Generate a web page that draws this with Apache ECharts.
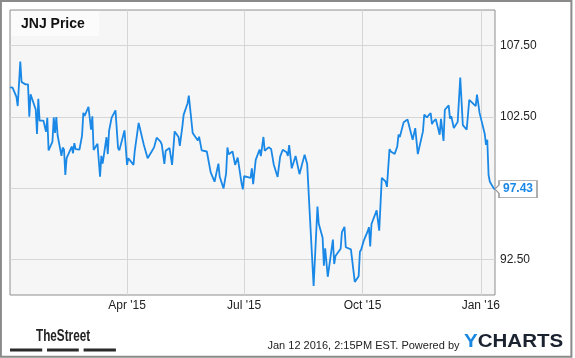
<!DOCTYPE html>
<html>
<head>
<meta charset="utf-8">
<script src="https://cdn.jsdelivr.net/npm/echarts@6/dist/echarts.min.js"></script>
<style>
html,body{margin:0;padding:0;background:#fff;}
#chart{width:575px;height:358px;}
</style>
</head>
<body>
<div id="chart"></div>
<script>
var seriesName = 'JNJ Price';
var dates = [
'2014-12-31','2015-01-02','2015-01-05','2015-01-06','2015-01-08','2015-01-09','2015-01-12','2015-01-13','2015-01-14','2015-01-15',
'2015-01-16','2015-01-20','2015-01-21','2015-01-22','2015-01-23','2015-01-26','2015-01-28','2015-01-29','2015-01-30','2015-02-02',
'2015-02-03','2015-02-04','2015-02-05','2015-02-06','2015-02-09','2015-02-10','2015-02-11','2015-02-12','2015-02-13','2015-02-17',
'2015-02-18','2015-02-19','2015-02-20','2015-02-23','2015-02-25','2015-02-26','2015-02-27','2015-03-02','2015-03-04','2015-03-05',
'2015-03-06','2015-03-09','2015-03-11','2015-03-12','2015-03-13','2015-03-16','2015-03-17','2015-03-18','2015-03-20','2015-03-23',
'2015-03-25','2015-03-26','2015-03-30','2015-04-01','2015-04-02','2015-04-06','2015-04-07','2015-04-10','2015-04-14','2015-04-15',
'2015-04-17','2015-04-20','2015-04-22','2015-04-24','2015-04-27','2015-04-28','2015-04-29','2015-04-30','2015-05-01','2015-05-04',
'2015-05-06','2015-05-08','2015-05-11','2015-05-12','2015-05-13','2015-05-14','2015-05-15','2015-05-18','2015-05-19','2015-05-22',
'2015-05-26','2015-05-27','2015-05-28','2015-05-29','2015-06-02','2015-06-05','2015-06-08','2015-06-11','2015-06-12','2015-06-15',
'2015-06-17','2015-06-18','2015-06-19','2015-06-22','2015-06-24','2015-06-26','2015-06-29','2015-06-30','2015-07-01','2015-07-06',
'2015-07-07','2015-07-08','2015-07-10','2015-07-13','2015-07-14','2015-07-16','2015-07-17','2015-07-20','2015-07-22','2015-07-24',
'2015-07-27','2015-07-29','2015-07-31','2015-08-03','2015-08-04','2015-08-05','2015-08-07','2015-08-10','2015-08-13','2015-08-17',
'2015-08-19','2015-08-21','2015-08-24','2015-08-27','2015-08-28','2015-08-31','2015-09-01','2015-09-02','2015-09-04','2015-09-08',
'2015-09-09','2015-09-10','2015-09-14','2015-09-15','2015-09-17','2015-09-18','2015-09-22','2015-09-23','2015-09-25','2015-09-28',
'2015-09-29','2015-09-30','2015-10-02','2015-10-05','2015-10-06','2015-10-07','2015-10-08','2015-10-12','2015-10-14','2015-10-16',
'2015-10-19','2015-10-20','2015-10-22','2015-10-23','2015-10-26','2015-10-28','2015-10-29','2015-10-30','2015-11-02','2015-11-03',
'2015-11-05','2015-11-09','2015-11-11','2015-11-13','2015-11-17','2015-11-18','2015-11-20','2015-11-23','2015-11-24','2015-11-25',
'2015-11-27','2015-11-30','2015-12-01','2015-12-03','2015-12-04','2015-12-07','2015-12-08','2015-12-09','2015-12-11','2015-12-14',
'2015-12-16','2015-12-18','2015-12-21','2015-12-23','2015-12-28','2015-12-29','2015-12-31','2016-01-04','2016-01-05','2016-01-06',
'2016-01-07','2016-01-08','2016-01-11','2016-01-12'
];
var prices = [
104.57,104.55,103.90,103.26,106.39,104.95,104.78,104.68,104.78,102.52,
104.08,103.02,101.30,103.77,102.24,102.24,101.46,102.43,100.14,100.77,
102.46,101.37,102.49,101.21,99.76,100.35,100.19,98.42,99.60,100.42,
99.95,100.66,100.24,100.21,101.18,102.78,102.57,103.21,101.60,102.54,
100.17,100.61,98.30,99.76,99.22,101.07,99.89,101.51,102.45,102.96,
100.31,100.15,101.55,99.13,99.60,99.13,100.14,102.08,100.54,100.54,
99.60,100.05,100.36,101.04,100.77,100.56,100.70,99.20,100.12,100.31,
99.13,101.48,101.09,100.47,100.54,101.84,102.66,103.44,103.99,101.37,
100.84,101.11,101.13,100.15,100.07,98.60,97.95,99.22,98.30,97.48,
98.54,100.35,99.88,100.07,99.13,99.64,97.83,97.41,98.35,98.22,
98.89,97.77,99.48,100.21,99.74,101.09,100.12,100.36,100.24,99.16,
98.28,99.71,100.19,100.02,99.76,100.52,98.89,99.76,98.48,99.85,
99.20,95.71,90.64,96.21,95.00,94.01,92.05,93.28,91.28,93.89,
92.17,92.73,93.24,94.41,94.78,93.35,93.20,93.08,90.92,91.31,
93.04,93.19,93.82,94.46,94.76,93.40,94.98,95.94,94.51,98.22,
97.95,97.59,100.24,100.07,99.90,100.40,101.25,101.09,102.13,101.99,
102.31,100.89,101.71,99.89,101.48,102.66,102.46,102.77,101.99,102.17,
102.33,101.25,102.36,100.81,103.00,103.31,102.38,102.54,101.72,102.15,
105.26,101.92,101.60,103.70,103.25,104.06,102.78,101.32,100.54,100.89,
98.42,97.95,97.48,97.43
];
var xTickDates = ['2015-04-01','2015-07-01','2015-10-01','2016-01-01'];
var xTickLabels = ["Apr '15","Jul '15","Oct '15","Jan '16"];
var yTickValues = [92.5, 97.5, 102.5, 107.5];
var xRange = ['2014-12-31','2016-01-12'];
var yRange = [90, 110];
var footerStamp = 'Jan 12 2016, 2:15PM EST. Powered by';

function ts(s){ var p = s.split('-'); return Date.UTC(+p[0], +p[1]-1, +p[2]); }

var lineData = dates.map(function(d,i){ return [ts(d), prices[i]]; });
var xTicks = xTickDates.map(ts);
var lastPoint = lineData[lineData.length-1];

var FONT = '"Liberation Sans", Arial, Helvetica, sans-serif';
var BLUE = '#1a88e6';

var chart = echarts.init(document.getElementById('chart'), null, {renderer:'canvas'});
chart.setOption({
  animation: false,
  backgroundColor: '#ffffff',
  textStyle: {fontFamily: FONT},
  grid: {
    left: 10, top: 10, right: 80, bottom: 63,
    show: true, backgroundColor: '#f6f6f6', borderColor: '#8e8e8e', borderWidth: 1,
    containLabel: false
  },
  xAxis: {
    type: 'value',
    min: ts(xRange[0]), max: ts(xRange[1]),
    axisLine: {show: false},
    axisTick: {show: false, customValues: xTicks},
    splitLine: {show: true, lineStyle: {color: '#d6d6d6', width: 1}},
    axisLabel: {
      customValues: xTicks,
      color: '#222', fontSize: 12, fontFamily: FONT, margin: 5,
      formatter: function(v){ var i = xTicks.indexOf(v); return i >= 0 ? xTickLabels[i] : ''; }
    }
  },
  yAxis: {
    type: 'value', position: 'right',
    min: yRange[0], max: yRange[1],
    axisLine: {show: false},
    axisTick: {show: false, customValues: yTickValues},
    splitLine: {show: true, lineStyle: {color: '#d6d6d6', width: 1}},
    axisLabel: {
      customValues: yTickValues,
      color: '#222', fontSize: 12, fontFamily: FONT, margin: 5,
      formatter: function(v){ return v.toFixed(2); }
    }
  },
  series: [{
    name: seriesName,
    type: 'line',
    data: lineData,
    showSymbol: false,
    symbol: 'none',
    lineStyle: {color: BLUE, width: 1.8},
    itemStyle: {color: BLUE},
    markPoint: {
      silent: true,
      symbol: 'path://M0,8.5L4,4.3L4,0L42,0L42,17L4,17L4,12.7Z',
      symbolSize: [42, 17],
      symbolOffset: [21, 0],
      symbolKeepAspect: false,
      itemStyle: {color: '#ffffff', borderColor: '#9a9a9a', borderWidth: 1},
      label: {
        show: true, position: 'inside', offset: [2, 0],
        color: BLUE, fontWeight: 'bold', fontSize: 12, fontFamily: FONT,
        formatter: function(p){ return p.value.toFixed(2); }
      },
      data: [{coord: lastPoint, value: lastPoint[1]}]
    }
  }],
  graphic: [
    {type:'rect', z: 100, silent:true, shape:{x:0.9, y:0.9, width:570.5, height:355.8},
     style:{fill:'none', stroke:'#8a8a8a', lineWidth:2}},
    {type:'rect', z: 50, silent:true, shape:{x:11, y:11, width:88, height:25},
     style:{fill:'#fbfbfb'}},
    {type:'text', z: 51, silent:true, x:21, y:24,
     style:{text: seriesName, font:'bold 14px ' + FONT, fill:'#111', verticalAlign:'middle', align:'left'}},
    {type:'text', z: 51, silent:true, x:36, y:336, scaleX:0.69,
     style:{text:'TheStreet', font:'bold 17px ' + FONT, fill:'#222', verticalAlign:'middle', align:'left'}},
    {type:'rect', silent:true, shape:{x:10, y:348.5, width:32.2, height:3}, style:{fill:'#2a2a2a'}},
    {type:'rect', silent:true, shape:{x:47, y:348.5, width:31.8, height:3}, style:{fill:'#2a2a2a'}},
    {type:'rect', silent:true, shape:{x:83.6, y:348.5, width:32.3, height:3}, style:{fill:'#2a2a2a'}},
    {type:'text', silent:true, x:459.5, y:345.5,
     style:{text: footerStamp, font:'11px ' + FONT, fill:'#222', verticalAlign:'middle', align:'right'}},
    {type:'text', silent:true, x:464, y:342, scaleX:1.08,
     style:{text:'{y|Y}{c|CHARTS}', verticalAlign:'middle', align:'left',
       rich:{ y:{font:'bold 19px ' + FONT, fill:'#1a88e0'}, c:{font:'bold 19px ' + FONT, fill:'#1b2230'} }}}
  ]
});
</script>
</body>
</html>
